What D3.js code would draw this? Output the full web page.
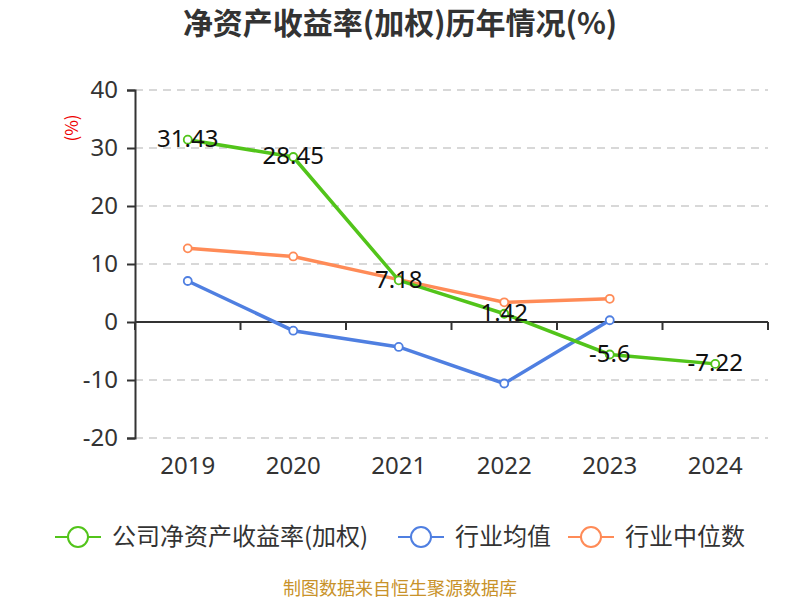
<!DOCTYPE html>
<html>
<head>
<meta charset="utf-8">
<script src="https://cdn.jsdelivr.net/npm/d3@7"></script>
<style>
body{margin:0;background:#fff;font-family:"Noto Sans CJK SC","Noto Sans",sans-serif;}
</style>
</head>
<body>
<svg id="chart" width="800" height="600"></svg>
<script>
const years=['2019','2020','2021','2022','2023','2024']
const company=[31.43,28.45,7.18,1.42,-5.6,-7.22]
const ind_avg=[7.07,-1.5,-4.3,-10.6,0.3,null]
const ind_mid=[12.7,11.3,7.3,3.4,4.0,null]
const y_ticks=[-20,-10,0,10,20,30,40]

const series=[
    {name:'公司净资产收益率(加权)',values:company,color:'#52c41a'},
    {name:'行业均值',values:ind_avg,color:'#4f7fe1'},
    {name:'行业中位数',values:ind_mid,color:'#ff8b57'}
]

const svg=d3.select('#chart')
const m={left:135,right:768,top:90,bot:438}

const x=d3.scaleBand().domain(years).range([m.left,m.right])
const y=d3.scaleLinear().domain([-20,40]).range([m.bot,m.top])

// title
svg.append('text')
    .attr('x',400).attr('y',34)
    .attr('text-anchor','middle')
    .style('font-size','30px').style('font-weight','bold').style('fill','#333')
    .text('净资产收益率(加权)历年情况(%)')

// unit
svg.append('text')
    .attr('transform','translate(78,128) rotate(-90)')
    .attr('text-anchor','middle')
    .style('font-size','17px').style('fill','#e00')
    .text('(%)')

// grid
svg.append('g').selectAll('line')
    .data(y_ticks.filter(d=>d!==0))
    .join('line')
    .attr('x1',m.left).attr('x2',m.right)
    .attr('y1',d=>y(d)).attr('y2',d=>y(d))
    .attr('stroke','#ccc').attr('stroke-width',1.5).attr('stroke-dasharray','8,6')

// y axis
const yAxis=svg.append('g')
    .attr('transform',`translate(${m.left},0)`)
    .call(d3.axisLeft(y).tickValues(y_ticks).tickSize(8).tickPadding(9).tickFormat(d=>String(d)))
yAxis.select('.domain').attr('stroke','#333').attr('stroke-width',2)
yAxis.selectAll('.tick line').attr('stroke','#333').attr('stroke-width',2)
yAxis.selectAll('text').style('font-size','24px').style('fill','#333').style('font-family','"Noto Sans",sans-serif')

// x axis at zero
svg.append('path')
    .attr('d',`M${m.left},${y(0)}H${m.right}`)
    .attr('stroke','#333').attr('stroke-width',2)
svg.append('g').selectAll('line')
    .data(d3.range(years.length+1))
    .join('line')
    .attr('x1',i=>m.left+i*x.bandwidth()).attr('x2',i=>m.left+i*x.bandwidth())
    .attr('y1',y(0)).attr('y2',y(0)+8)
    .attr('stroke','#333').attr('stroke-width',2)

// x labels at bottom
svg.append('g').selectAll('text')
    .data(years)
    .join('text')
    .attr('x',d=>x(d)+x.bandwidth()/2)
    .attr('y',474)
    .attr('text-anchor','middle')
    .style('font-size','24px').style('fill','#333').style('font-family','"Noto Sans",sans-serif')
    .text(d=>d)

const cx=d=>x(d)+x.bandwidth()/2
const line=d3.line()
    .x(d=>cx(d.year)).y(d=>y(d.v))

const draw_order=[series[2],series[1],series[0]]
draw_order.forEach(s=>{
    const pts=years.map((yr,i)=>({year:yr,v:s.values[i]})).filter(d=>d.v!==null)
    svg.append('path')
        .datum(pts)
        .attr('d',line)
        .attr('fill','none').attr('stroke',s.color).attr('stroke-width',3.5)
    svg.append('g').selectAll('circle')
        .data(pts)
        .join('circle')
        .attr('cx',d=>cx(d.year)).attr('cy',d=>y(d.v)).attr('r',4)
        .attr('fill','#fff').attr('stroke',s.color).attr('stroke-width',1.8)
})

// data labels
svg.append('g').selectAll('text')
    .data(years.map((yr,i)=>({year:yr,v:company[i]})))
    .join('text')
    .attr('x',d=>cx(d.year)).attr('y',d=>y(d.v))
    .attr('dy','0.3em')
    .attr('text-anchor','middle')
    .style('font-size','24px').style('fill','#111').style('font-family','"Noto Sans",sans-serif')
    .text(d=>d.v)

// legend
const legend_pos=[55,398,568]
const lg=svg.append('g').selectAll('g')
    .data(series)
    .join('g')
    .attr('transform',(d,i)=>`translate(${legend_pos[i]},537)`)
lg.append('line').attr('x1',0).attr('x2',46).attr('y1',0).attr('y2',0)
    .attr('stroke',d=>d.color).attr('stroke-width',2)
lg.append('circle').attr('cx',23).attr('cy',0).attr('r',10)
    .attr('fill','#fff').attr('stroke',d=>d.color).attr('stroke-width',2)
lg.append('text').attr('x',57).attr('y',0).attr('dy','0.35em')
    .style('font-size','24px').style('fill','#333')
    .text(d=>d.name)

// source
svg.append('text')
    .attr('x',400).attr('y',595)
    .attr('text-anchor','middle')
    .style('font-size','18px').style('fill','#c8922a')
    .text('制图数据来自恒生聚源数据库')
</script>
</body>
</html>
